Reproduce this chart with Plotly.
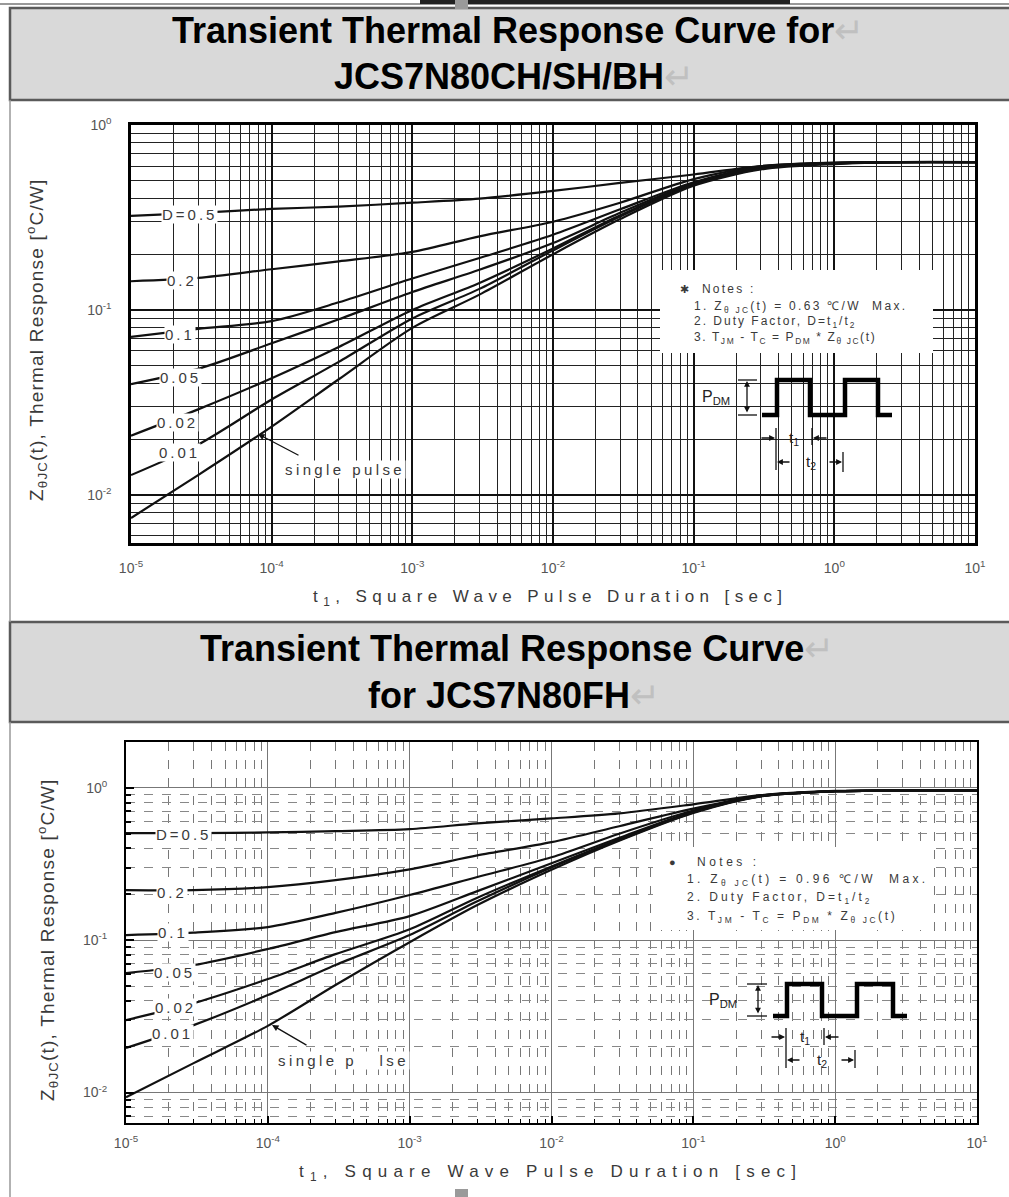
import plotly.graph_objects as go

W, H = 1009, 1197

# ---------------- data ----------------
pulse_t = [1e-5, 3e-5, 1e-4, 3e-4, 1e-3, 3e-3, 1e-2, 3e-2, 1e-1, 3e-1, 1, 3, 10]

# Chart 1 : JCS7N80CH/SH/BH  (Zth max 0.63 C/W)
ch_d050 = [0.323, 0.335, 0.352, 0.362, 0.38, 0.40, 0.44, 0.486, 0.54, 0.60, 0.625, 0.63, 0.63]
ch_d020 = [0.143, 0.149, 0.166, 0.183, 0.206, 0.25, 0.30, 0.38, 0.51, 0.598, 0.625, 0.63, 0.63]
ch_d010 = [0.0715, 0.079, 0.087, 0.110, 0.148, 0.191, 0.255, 0.35, 0.49, 0.594, 0.624, 0.63, 0.63]
ch_d005 = [0.0397, 0.048, 0.066, 0.089, 0.125, 0.165, 0.23, 0.335, 0.485, 0.59, 0.622, 0.63, 0.63]
ch_d002 = [0.0209, 0.029, 0.0427, 0.063, 0.10, 0.14, 0.215, 0.325, 0.48, 0.585, 0.62, 0.63, 0.63]
ch_d001 = [0.0128, 0.0187, 0.0328, 0.0524, 0.09, 0.13, 0.21, 0.32, 0.475, 0.58, 0.62, 0.63, 0.63]
ch_single = [0.0075, 0.0128, 0.0234, 0.0422, 0.08, 0.121, 0.20, 0.31, 0.47, 0.575, 0.615, 0.63, 0.63]

# Chart 2 : JCS7N80FH  (Zth max 0.96 C/W)
fh_d050 = [0.505, 0.505, 0.51, 0.52, 0.536, 0.585, 0.63, 0.68, 0.78, 0.895, 0.955, 0.96, 0.96]
fh_d020 = [0.213, 0.213, 0.223, 0.248, 0.292, 0.36, 0.44, 0.56, 0.73, 0.89, 0.95, 0.96, 0.96]
fh_d010 = [0.108, 0.112, 0.122, 0.151, 0.198, 0.26, 0.35, 0.50, 0.71, 0.888, 0.95, 0.96, 0.96]
fh_d005 = [0.0608, 0.0687, 0.0875, 0.113, 0.144, 0.21, 0.32, 0.47, 0.70, 0.885, 0.95, 0.96, 0.96]
fh_d002 = [0.0299, 0.0386, 0.0556, 0.081, 0.118, 0.19, 0.305, 0.46, 0.695, 0.883, 0.95, 0.96, 0.96]
fh_d001 = [0.0196, 0.0277, 0.0436, 0.0687, 0.108, 0.18, 0.30, 0.455, 0.69, 0.882, 0.95, 0.96, 0.96]
fh_single = [0.0093, 0.0156, 0.0274, 0.0508, 0.097, 0.17, 0.29, 0.45, 0.685, 0.88, 0.95, 0.96, 0.96]

x_tickvals = [1e-5, 1e-4, 1e-3, 1e-2, 1e-1, 1, 10]
x_ticktext = ["10<sup>-5</sup>", "10<sup>-4</sup>", "10<sup>-3</sup>", "10<sup>-2</sup>",
              "10<sup>-1</sup>", "10<sup>0</sup>", "10<sup>1</sup>"]
y_tickvals = [1e-2, 1e-1, 1]
y_ticktext = ["10<sup>-2</sup>", "10<sup>-1</sup>", "10<sup>0</sup>"]
curve_labels = ["D=0.5", "0.2", "0.1", "0.05", "0.02", "0.01"]

minor_x = [k * 10.0 ** e for e in range(-5, 1) for k in range(2, 10)]
minor_y = [k * 10.0 ** e for e in range(-3, 1) for k in range(2, 10)]

# ---------------- helpers ----------------
def px(x):
    return x / W

def py(y):
    return 1 - y / H

def sp(text, n):
    return '<span style="letter-spacing:%spx">%s</span>' % (n, text)

FONT = "Liberation Sans, Arial, sans-serif"
TXT = "#3a3a3a"

fig = go.Figure()

top_series = [ch_d050, ch_d020, ch_d010, ch_d005, ch_d002, ch_d001, ch_single]
bot_series = [fh_d050, fh_d020, fh_d010, fh_d005, fh_d002, fh_d001, fh_single]
for ys in top_series:
    fig.add_trace(go.Scatter(x=pulse_t, y=ys, mode="lines", xaxis="x", yaxis="y",
                             line=dict(color="#111", width=2.2, shape="spline", smoothing=0.8),
                             showlegend=False, hoverinfo="skip"))
for ys in bot_series:
    fig.add_trace(go.Scatter(x=pulse_t, y=ys, mode="lines", xaxis="x2", yaxis="y2",
                             line=dict(color="#111", width=2.2, shape="spline", smoothing=0.8),
                             showlegend=False, hoverinfo="skip"))

# ---------------- axes ----------------
tickfont = dict(family=FONT, size=14, color="#555")

common_x = dict(type="log", tickvals=x_tickvals, ticktext=x_ticktext, tickfont=tickfont,
                showline=True, linecolor="black", mirror=True, zeroline=False,
                automargin=False, fixedrange=True)
common_y = dict(type="log", tickvals=y_tickvals, ticktext=y_ticktext, tickfont=tickfont,
                showline=True, linecolor="black", mirror=True, zeroline=False,
                automargin=False, fixedrange=True)

fig.update_layout(
    xaxis=dict(common_x, range=[-5, 1], domain=[px(131), px(975)], anchor="y",
               showgrid=True, gridcolor="#111", gridwidth=1.8, linewidth=2.5,
               ticks="", ticklabelstandoff=10,
               minor=dict(tickvals=minor_x, showgrid=True, gridcolor="#222", gridwidth=1.1)),
    yaxis=dict(common_y, range=[-2.26, 0], domain=[py(543), py(125)], anchor="x",
               showgrid=True, gridcolor="#111", gridwidth=1.8, linewidth=2.5,
               ticks="", ticklabelstandoff=14,
               minor=dict(tickvals=minor_y, showgrid=True, gridcolor="#222", gridwidth=1.1)),
    xaxis2=dict(common_x, range=[-5, 1], domain=[px(126), px(977)], anchor="y2",
                showgrid=True, gridcolor="#777", gridwidth=1, linewidth=2,
                ticks="inside", ticklen=7, tickwidth=1.5, tickcolor="black",
                ticklabelstandoff=6,
                minor=dict(tickvals=minor_x, showgrid=True, gridcolor="#777", gridwidth=1,
                           griddash="dash", ticks="inside", ticklen=4, tickcolor="black",
                           tickwidth=1.2)),
    yaxis2=dict(common_y, range=[-2.2, 0.301], domain=[py(1123), py(742)], anchor="x2",
                showgrid=True, gridcolor="#777", gridwidth=1, linewidth=2,
                ticks="inside", ticklen=8, tickwidth=1.8, tickcolor="black",
                ticklabelstandoff=14,
                minor=dict(tickvals=minor_y, showgrid=True, gridcolor="#888", gridwidth=1,
                           griddash="dash", ticks="inside", ticklen=5, tickcolor="black",
                           tickwidth=1.5)),
)

# ---------------- decorations ----------------
shapes = []
annots = []

# page borders / title banners
shapes.append(dict(type="line", xref="paper", yref="paper", x0=px(0), x1=px(1009),
                   y0=py(4), y1=py(4), line=dict(color="#999", width=2), layer="below"))
shapes.append(dict(type="rect", xref="paper", yref="paper", x0=px(420), x1=px(790),
                   y0=py(4), y1=py(0), fillcolor="#222", line=dict(width=0), layer="below"))
shapes.append(dict(type="rect", xref="paper", yref="paper", x0=px(455), x1=px(468),
                   y0=py(9), y1=py(0), fillcolor="#9a9a9a", line=dict(width=0), layer="above"))
shapes.append(dict(type="rect", xref="paper", yref="paper", x0=px(455), x1=px(468),
                   y0=py(1197), y1=py(1189), fillcolor="#9a9a9a", line=dict(width=0), layer="above"))
for (y0, y1) in [(8, 100), (622, 722)]:
    shapes.append(dict(type="rect", xref="paper", yref="paper", x0=px(10), x1=px(1012),
                       y0=py(y1), y1=py(y0), fillcolor="#d9d9d9",
                       line=dict(color="#5a5a5a", width=2.5), layer="below"))
for (y0, y1) in [(100, 622), (722, 1197)]:
    shapes.append(dict(type="line", xref="paper", yref="paper", x0=px(10), x1=px(10),
                       y0=py(y1), y1=py(y0), line=dict(color="#999", width=1.5), layer="below"))

ret = '<span style="color:#c0c0c0;font-weight:normal">\u21b5</span>'
title_font = dict(family=FONT, size=36, color="black")
annots += [
    dict(text="<b>Transient Thermal Response Curve for</b>" + ret, x=px(518), y=py(31)),
    dict(text="<b>JCS7N80CH/SH/BH</b>" + ret, x=px(514), y=py(76)),
    dict(text="<b>Transient Thermal Response Curve</b>" + ret, x=px(517), y=py(648)),
    dict(text="<b>for JCS7N80FH</b>" + ret, x=px(514), y=py(695)),
]
for a in annots:
    a.update(xref="paper", yref="paper", showarrow=False, font=title_font,
             xanchor="center", yanchor="middle")

def add_text(text, x, y, size=12, xanchor="center", angle=0, bg=None, color=TXT):
    d = dict(text=text, x=px(x), y=py(y), xref="paper", yref="paper", showarrow=False,
             font=dict(family=FONT, size=size, color=color), xanchor=xanchor,
             yanchor="middle", textangle=angle)
    if bg:
        d.update(bgcolor=bg, borderpad=0)
    annots.append(d)

# axis titles
ytitle = "Z<sub>\u03b8JC</sub>(t), Thermal Response [<sup>o</sup>C/W]"
xtitle = "t<sub>1</sub>, Square Wave Pulse Duration [sec]"
add_text(sp(ytitle, 1.2), 36, 340, size=19, angle=-90)
add_text(sp(ytitle, 1.2), 47, 940, size=19, angle=-90)
add_text(sp(xtitle, 5.4), 550, 598, size=17)
add_text(sp(xtitle, 6.2), 550, 1173, size=17)

# curve labels
top_pos = [(189, 214), (182, 280), (180, 335), (180, 377), (177, 422), (179, 452)]
bot_pos = [(183, 834), (172, 892), (173, 932), (174, 972), (175, 1007), (172, 1033)]
for lab, (x, y) in zip(curve_labels, top_pos):
    add_text(sp(lab, 3), x, y, size=15, bg="white")
for lab, (x, y) in zip(curve_labels, bot_pos):
    add_text(sp(lab, 3), x, y, size=15, bg="white")

add_text(sp("single pulse", 3.4), 345, 469, size=15, bg="white")
add_text(sp("single p\u00a0\u00a0 lse", 3.4), 343, 1060, size=15, bg="white")

def arrow(x_head, y_head, x_tail, y_tail, width=1.3, head=2, size=1.0, side="end"):
    annots.append(dict(x=px(x_head), y=py(y_head), xref="paper", yref="paper", text="",
                       showarrow=True, ax=x_tail - x_head, ay=y_tail - y_head,
                       axref="pixel", ayref="pixel", arrowhead=head, arrowsize=size,
                       arrowwidth=width, arrowcolor="#111", arrowside=side,
                       startarrowhead=head, startarrowsize=size))

arrow(258, 434, 300, 456)
arrow(272, 1025, 308, 1046)

# notes boxes
def notes(box, lines, bullet):
    x0, y0, x1, y1 = box
    shapes.append(dict(type="rect", xref="paper", yref="paper", x0=px(x0), x1=px(x1),
                       y0=py(y1), y1=py(y0), fillcolor="white", line=dict(width=0),
                       layer="above"))
    bx, by, bsym = bullet
    add_text(bsym, bx, by, size=11)
    for (t, x, y) in lines:
        add_text(t, x, y, size=12, xanchor="left")

ZT = "Z<sub>\u03b8 JC</sub>(t)"
notes((660, 270, 933, 353),
      [(sp("Notes :", 2.2), 700, 289),
       (sp("1. " + ZT + " = 0.63 \u2103/W  Max.", 2.3), 692, 307),
       (sp("2. Duty Factor, D=t<sub>1</sub>/t<sub>2</sub>", 2.0), 692, 322),
       (sp("3. T<sub>JM</sub> - T<sub>C</sub> = P<sub>DM</sub> * " + ZT, 1.6), 692, 338)],
      (684, 289, "\u2731"))
notes((653, 847, 930, 930),
      [(sp("Notes :", 3.5), 695, 862),
       (sp("1. " + ZT + " = 0.96 \u2103/W  Max.", 3.3), 685, 880),
       (sp("2. Duty Factor, D=t<sub>1</sub>/t<sub>2</sub>", 3.0), 685, 898),
       (sp("3. T<sub>JM</sub> - T<sub>C</sub> = P<sub>DM</sub> * " + ZT, 2.6), 685, 917)],
      (672, 862, "\u25cf"))

# pulse diagrams
def pulse(xs, ylo, yhi, pdm_x, brk, t1row, t2row):
    a, r1, f1, r2, f2, b = xs
    path = "M %f,%f L %f,%f L %f,%f L %f,%f L %f,%f L %f,%f L %f,%f L %f,%f L %f,%f L %f,%f" % (
        px(a), py(ylo), px(r1), py(ylo), px(r1), py(yhi), px(f1), py(yhi), px(f1), py(ylo),
        px(r2), py(ylo), px(r2), py(yhi), px(f2), py(yhi), px(f2), py(ylo), px(b), py(ylo))
    shapes.append(dict(type="path", xref="paper", yref="paper", path=path,
                       line=dict(color="black", width=4.5), layer="above"))
    add_text("P<sub>DM</sub>", pdm_x, (ylo + yhi) / 2, size=16, color="#222")
    bx0, bx1, bxm = brk
    for yy in (ylo, yhi):
        shapes.append(dict(type="line", xref="paper", yref="paper", x0=px(bx0), x1=px(bx1),
                           y0=py(yy), y1=py(yy), line=dict(color="#111", width=1.3),
                           layer="above"))
    arrow(bxm, yhi + 1, bxm, ylo - 1, width=1.3, size=0.9, side="end+start")
    # t1 row
    ty1, ybar0, ybar1, ybar1b = t1row
    shapes.append(dict(type="line", xref="paper", yref="paper", x0=px(r1 - 1), x1=px(r1 - 1),
                       y0=py(ybar0), y1=py(ybar1), line=dict(color="#111", width=1.3),
                       layer="above"))
    shapes.append(dict(type="line", xref="paper", yref="paper", x0=px(f1 + 2), x1=px(f1 + 2),
                       y0=py(ybar0), y1=py(ybar1b), line=dict(color="#111", width=1.3),
                       layer="above"))
    arrow(r1 - 2, ty1, r1 - 17, ty1, size=0.9)
    arrow(f1 + 3, ty1, f1 + 18, ty1, size=0.9)
    add_text("t<sub>1</sub>", (r1 + f1) / 2, ty1, size=15, color="#222")
    # t2 row
    ty2, yb2a, yb2b = t2row
    shapes.append(dict(type="line", xref="paper", yref="paper", x0=px(r2 - 2), x1=px(r2 - 2),
                       y0=py(yb2a), y1=py(yb2b), line=dict(color="#111", width=1.3),
                       layer="above"))
    arrow(r1, ty2, r1 + 14, ty2, size=0.9)
    arrow(r2 - 3, ty2, r2 - 17, ty2, size=0.9)
    add_text("t<sub>2</sub>", (r1 + r2) / 2, ty2, size=15, color="#222")

pulse((762, 777, 810, 845, 878, 892), 415, 380, 716, (738, 757, 747),
      (438, 428, 470, 445), (462, 452, 472))
pulse((773, 787, 822, 857, 893, 907), 1016, 984, 723, (747, 767, 758),
      (1037, 1028, 1068, 1045), (1060, 1050, 1068))

fig.update_layout(
    width=W, height=H, margin=dict(l=0, r=0, t=0, b=0, pad=0),
    paper_bgcolor="white", plot_bgcolor="white",
    shapes=shapes, annotations=annots, showlegend=False,
    font=dict(family=FONT),
)

fig.write_html("out.html", config={"displayModeBar": False},
               post_script="document.body.style.margin='0';document.body.style.overflow='hidden';")
